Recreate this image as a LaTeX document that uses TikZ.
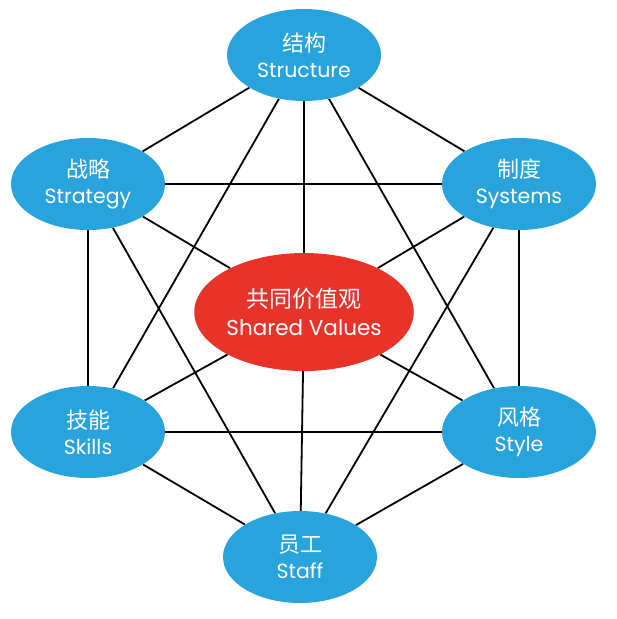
\documentclass[tikz,border=0pt]{standalone}
\usepackage{fontspec}
\setmainfont{Poppins}
\newfontfamily\cjk{Noto Sans CJK SC}
\usepackage{xcolor}
\usetikzlibrary{shapes, shapes.geometric}
\usetikzlibrary{backgrounds}
\definecolor{elementblue}{RGB}{41,163,220}
\definecolor{valuesred}{RGB}{232,51,42}
\tikzset{
  element/.style={ellipse, fill=elementblue, text=white, minimum width=154pt, minimum height=92pt, inner sep=0pt, align=center, font=\fontsize{20.5}{26}\selectfont},
  core/.style={element, fill=valuesred, minimum width=214pt, minimum height=118pt, font=\fontsize{21.5}{28}\selectfont},
  link/.style={draw=black, line width=1.8pt}
}

\begin{document}
\begin{tikzpicture}[x=1pt,y=1pt,yscale=-1,xscale=1]
\useasboundingbox (0,0) rectangle (617,619);

% Shared values
\node [core] (values) at (304,312) {{\cjk\fontsize{23}{28}\selectfont 共同价值观}\\Shared Values};
% Outer elements
\node [element] (structure) at (304,55) {{\cjk\fontsize{22}{26}\selectfont 结构}\\Structure};
\node [element] (strategy) at (88,184) {{\cjk\fontsize{22}{26}\selectfont 战略}\\Strategy};
\node [element] (systems) at (519,184) {{\cjk\fontsize{22}{26}\selectfont 制度}\\Systems};
\node [element] (skills) at (88,432) {{\cjk\fontsize{22}{26}\selectfont 技能}\\Skills};
\node [element] (style) at (519,432) {{\cjk\fontsize{22}{26}\selectfont 风格}\\Style};
\node [element] (staff) at (300,557) {{\cjk\fontsize{22}{26}\selectfont 员工}\\Staff};

\begin{scope}[on background layer]
%Spokes
\draw [link] (values) -- (structure);
\draw [link] (values) -- (strategy);
\draw [link] (values) -- (systems);
\draw [link] (values) -- (skills);
\draw [link] (values) -- (style);
\draw [link] (values) -- (staff);
%Rim and chords
\draw [link] (structure) -- (strategy);
\draw [link] (structure) -- (systems);
\draw [link] (structure) -- (skills);
\draw [link] (structure) -- (style);
\draw [link] (strategy) -- (systems);
\draw [link] (strategy) -- (skills);
\draw [link] (strategy) -- (staff);
\draw [link] (systems) -- (style);
\draw [link] (systems) -- (staff);
\draw [link] (skills) -- (style);
\draw [link] (skills) -- (staff);
\draw [link] (style) -- (staff);
\end{scope}

\end{tikzpicture}
\end{document}
